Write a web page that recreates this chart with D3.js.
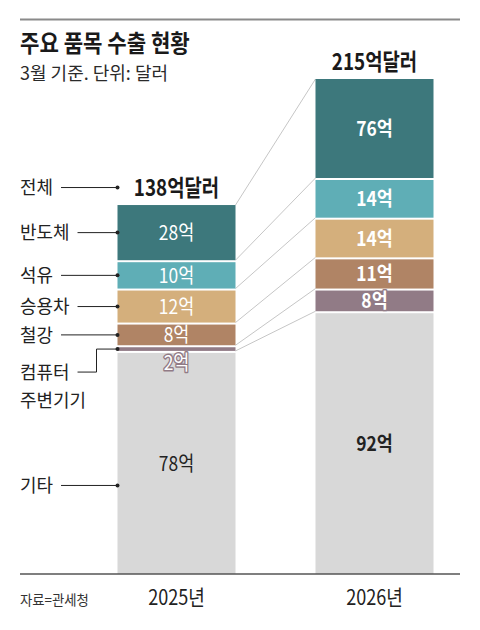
<!DOCTYPE html>
<html><head><meta charset="utf-8">
<script src="https://cdn.jsdelivr.net/npm/d3@7"></script>
<style>body{margin:0;background:#fff}svg{display:block}text{font-family:"Noto Sans CJK KR","Noto Sans",sans-serif}</style>
</head><body><svg id="c" width="480" height="630"></svg>
<script>
// ---- data ----
const years = ["2025년", "2026년"];
const categories = ["기타", "컴퓨터\n주변기기", "철강", "승용차", "석유", "반도체"];
const values2025 = [78, 2, 8, 12, 10, 28];
const values2026 = [92, 8, 11, 14, 14, 76];
const totals = [138, 215];
const totalCaption = "전체";
const unit = "억";
const totalUnit = "억달러";
const title = "주요 품목 수출 현황";
const subtitle = "3월 기준. 단위: 달러";
const source = "자료=관세청";

// ---- styles ----
const colors = ["#d8d8d8", "#917b86", "#b08465", "#d4af7c", "#5faeb6", "#3d787c"];
const labelFill = ["#222", "#fff", "#fff", "#fff", "#fff", "#fff"];
const labelStroke = [null, "#917b86", null, null, null, null];

const svg = d3.select("#c");
const baseY = 574, gap = 2;

const x = d3.scaleBand().domain(years).range([117.5, 433.5]).paddingInner(0.404).paddingOuter(0);
const series = [values2025, values2026];
const lowerSums = series.map(v => d3.sum(v.slice(0, v.length - 1)));
const y = d3.scaleLinear().domain([0, d3.max(lowerSums)]).range([baseY, 180]);
// top segment (반도체) is drawn on a compressed scale, as in the original graphic
const last = categories.length - 1;
const hTop = d3.scalePow().exponent(0.57).domain([0, d3.max(series, v => v[last])]).range([0, 101]);

function txt(g, s, px, py, o) {
  const t = g.append("text")
    .attr("transform", `translate(${px},${py}) scale(${o.sx || 1},1)`)
    .attr("text-anchor", o.anchor || "start")
    .attr("dy", o.dy === undefined ? "0.36em" : o.dy)
    .attr("font-size", o.size)
    .attr("font-weight", o.weight || 400)
    .attr("fill", o.fill || "#222")
    .text(s);
  if (o.stroke) t.attr("stroke", o.stroke).attr("stroke-width", 3).attr("stroke-linejoin", "round").attr("paint-order", "stroke");
  return t;
}

// stacked geometry
const segs = series.map((vals, bi) => {
  let cum = 0;
  return vals.map((v, i) => {
    let top, bottom;
    if (i < last) {
      bottom = i === 0 ? baseY : y(cum) - gap;
      top = y(cum + v);
    } else {
      bottom = y(cum) - gap;
      top = y(cum) - hTop(v);
    }
    cum += v;
    return { bi, i, v, top, bottom, x0: x(years[bi]), w: x.bandwidth() };
  });
});

// top rule and header
svg.append("line").attr("x1", 20).attr("x2", 460).attr("y1", 19.5).attr("y2", 19.5).attr("stroke", "#8a8a8a").attr("stroke-width", 2);
txt(svg, title, 20, 52, { size: 24, weight: 700, sx: 0.88, dy: 0, fill: "#1a1a1a" });
txt(svg, subtitle, 20, 80, { size: 18, sx: 1.0, dy: 0, fill: "#2a2a2a" });

// connector lines between bars
const conn = svg.append("g").attr("stroke", "#c6c6c6").attr("stroke-width", 1);
const bY = s => s.map(d => d.bottom).slice(1).concat([s[last].top]);
const yl = bY(segs[0]), yr = bY(segs[1]);
yl.forEach((v, k) => {
  conn.append("line").attr("x1", segs[0][0].x0 + x.bandwidth()).attr("y1", v)
    .attr("x2", segs[1][0].x0).attr("y2", yr[k]);
});

// bars
segs.forEach(s => {
  svg.append("g").selectAll("rect").data(s).join("rect")
    .attr("x", d => d.x0).attr("width", d => d.w)
    .attr("y", d => d.top).attr("height", d => Math.max(0, d.bottom - d.top))
    .attr("fill", d => colors[d.i]);
});

// segment labels
segs.forEach(s => {
  s.forEach(d => {
    const h = d.bottom - d.top;
    const cy = h < 14 ? d.top + 16 : (d.top + d.bottom) / 2;
    txt(svg, d.v + unit, d.x0 + d.w / 2, cy, {
      size: 20, sx: 0.87, anchor: "middle", weight: d.bi === 1 ? 700 : 400,
      fill: labelFill[d.i], stroke: labelStroke[d.i]
    });
  });
});

// totals
segs.forEach((s, bi) => {
  txt(svg, totals[bi] + totalUnit, s[0].x0 + s[0].w / 2, s[last].top - 17.5,
    { size: 23, weight: 700, sx: 0.82, anchor: "middle", fill: "#1a1a1a" });
});

// left annotations
const ann = svg.append("g");
const dotX = x(years[0]);
const cSize = 18.5, cSx = 0.97;
function leader(label, ly, dy) {
  const t = txt(ann, label, 20, ly, { size: cSize, sx: cSx });
  const end = 20 + t.node().getComputedTextLength() * cSx + 8;
  ann.append("line").attr("x1", end).attr("x2", dotX).attr("y1", dy).attr("y2", dy).attr("stroke", "#222").attr("stroke-width", 1);
  ann.append("circle").attr("cx", dotX).attr("cy", dy).attr("r", 2).attr("fill", "#222");
}
leader(totalCaption, segs[0][last].top - 17.5, segs[0][last].top - 17.5);
segs[0].forEach(d => {
  const cy = (d.top + d.bottom) / 2;
  const lines = categories[d.i].split("\n");
  if (lines.length > 1) {
    const ly = cy + 23;
    let w = 0;
    lines.forEach((ln, k) => {
      const t = txt(ann, ln, 20, ly + k * 28, { size: cSize, sx: cSx });
      if (k === 0) w = t.node().getComputedTextLength() * cSx;
    });
    const ex = 20 + w + 8, ix = dotX - 21;
    ann.append("path").attr("d", `M${ex},${ly}H${ix}V${cy}H${dotX}`).attr("fill", "none").attr("stroke", "#222").attr("stroke-width", 1);
    ann.append("circle").attr("cx", dotX).attr("cy", cy).attr("r", 2).attr("fill", "#222");
  } else {
    const off = d.i === 0 ? 22 : 0;
    leader(lines[0], cy + off, cy + off);
  }
});

// baseline, axis labels, source
svg.append("line").attr("x1", 20).attr("x2", 460).attr("y1", baseY).attr("y2", baseY).attr("stroke", "#555").attr("stroke-width", 1.5);
years.forEach(yr => txt(svg, yr, x(yr) + x.bandwidth() / 2, 597, { size: 21, sx: 0.86, anchor: "middle" }));
txt(svg, source, 20, 600, { size: 13.5, sx: 0.99, fill: "#333" });
</script>
</body></html>
